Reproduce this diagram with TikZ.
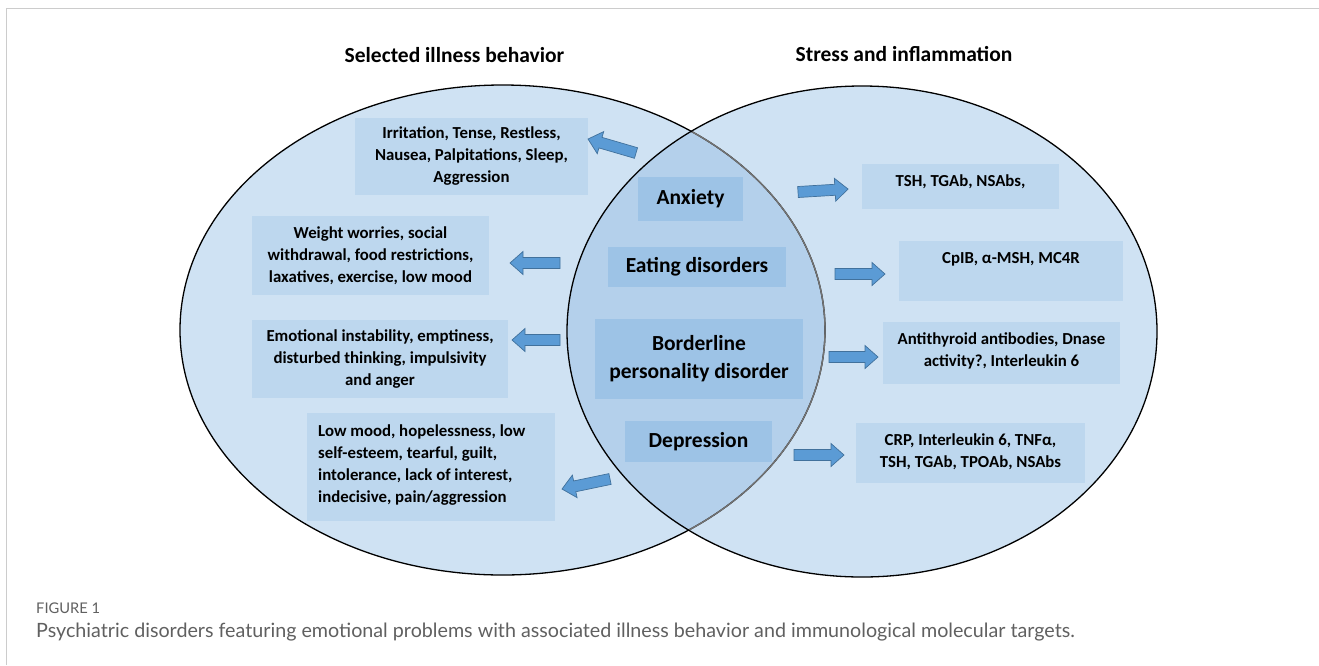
\documentclass[tikz,border=0pt]{standalone}
\usepackage{fontspec}
\setmainfont{Carlito}
\newfontfamily\capfont{Lato}
\usetikzlibrary{calc}

\definecolor{cVenn}{HTML}{CFE2F3}
\definecolor{cOverlap}{HTML}{B4D0EB}
\definecolor{cSide}{HTML}{BDD7EE}
\definecolor{cCore}{HTML}{9DC3E6}
\definecolor{cArrowFill}{HTML}{5B9BD5}
\definecolor{cArrowLine}{HTML}{41719C}
\definecolor{cFrame}{HTML}{CCCCCC}
\definecolor{cCaption}{HTML}{606060}

\begin{document}
\begin{tikzpicture}[x=1pt,y=-1pt,
  panel/.style={fill=cSide, inner sep=0pt, draw=none},
  corepanel/.style={fill=cCore, inner sep=0pt, draw=none},
  sidetext/.style={inner sep=0pt, align=center, font=\bfseries\fontsize{16.8}{22}\selectfont},
  coretext/.style={inner sep=0pt, align=center, font=\bfseries\fontsize{21.5}{28}\selectfont},
  heading/.style={inner sep=0pt, font=\bfseries\fontsize{21.5}{24}\selectfont},
  leftset/.style={x radius=322.5pt, y radius=245pt},
  rightset/.style={x radius=295pt, y radius=245.5pt},
  blockarrow/.style={draw=cArrowLine, fill=cArrowFill, line width=0.7pt, line join=miter,
    to path={let \p1=(\tikztostart), \p2=(\tikztotarget), \p3=($(\p2)!13pt!(\p1)$) in
      ($(\p1)!5.5pt!90:(\p2)$) -- ($(\p3)!5.5pt!90:(\p2)$) -- ($(\p3)!11.5pt!90:(\p2)$)
      -- (\p2) -- ($(\p3)!11.5pt!-90:(\p2)$) -- ($(\p3)!5.5pt!-90:(\p2)$)
      -- ($(\p1)!5.5pt!-90:(\p2)$) -- cycle}}
]
\useasboundingbox (0,0) rectangle (1319,665);
\fill[white] (0,0) rectangle (1319,665);

% frame lines
\draw[cFrame, line width=1pt] (6.5,665) -- (6.5,8.5) -- (1319,8.5);

% the two sets and their overlap
\fill[cVenn] (502.5,330) ellipse [leftset];
\fill[cVenn] (862,331.5) ellipse [rightset];
\begin{scope}
  \clip (502.5,330) ellipse [leftset];
  \fill[cOverlap] (862,331.5) ellipse [rightset];
\end{scope}
\draw[black, line width=1.3pt] (502.5,330) ellipse [leftset];
\begin{scope}
  \clip (862,331.5) ellipse [rightset];
  \draw[black!55, line width=1.4pt] (502.5,330) ellipse [leftset];
\end{scope}
\draw[black, line width=1.3pt] (862,331.5) ellipse [rightset];

% headings
\node[heading] (hl) at (454.5,55) {Selected illness behavior};
\node[heading] (hr) at (904,54) {Stress and inflammation};

% illness behaviour panels
\node[panel, minimum width=233pt, minimum height=77pt] (b1) at (471.5,156.5) {};
\node[sidetext] (t1) at (b1) {Irritation, Tense, Restless,\\Nausea, Palpitations, Sleep,\\Aggression};
\node[panel, minimum width=237pt, minimum height=79pt] (b2) at (370.5,255.5) {};
\node[sidetext] (t2) at (b2) {Weight worries, social\\withdrawal, food restrictions,\\laxatives, exercise, low mood};
\node[panel, minimum width=256pt, minimum height=78pt] (b3) at (380,359) {};
\node[sidetext] (t3) at (b3) {Emotional instability, emptiness,\\disturbed thinking, impulsivity\\and anger};
\node[panel, minimum width=248pt, minimum height=108pt] (b4) at (431,467) {};
\node[sidetext, align=left, anchor=west] (t4) at (318,465) {Low mood, hopelessness, low\\self-esteem, tearful, guilt,\\intolerance, lack of interest,\\indecisive, pain/aggression};

% disorders in the overlap
\node[corepanel, minimum width=105pt, minimum height=44pt] (c1) at (690.5,199) {};
\node[coretext] (d1) at (c1) {Anxiety};
\node[corepanel, minimum width=178pt, minimum height=40pt] (c2) at (697,267) {};
\node[coretext] (d2) at (c2) {Eating disorders};
\node[corepanel, minimum width=208pt, minimum height=80pt] (c3) at (699,359) {};
\node[coretext] (d3) at (c3) {Borderline\\personality disorder};
\node[corepanel, minimum width=147pt, minimum height=41pt] (c4) at (698.5,441.5) {};
\node[coretext] (d4) at (c4) {Depression};

% molecular targets
\node[panel, minimum width=197pt, minimum height=45pt] (r1) at (960.5,186.5) {};
\node[sidetext] (m1) at (960.5,182) {TSH, TGAb, NSAbs,};
\node[panel, minimum width=224pt, minimum height=60pt] (r2) at (1011,271) {};
\node[sidetext] (m2) at (1011,259) {CpIB, α-MSH, MC4R};
\node[panel, minimum width=237pt, minimum height=62pt] (r3) at (1001.5,353) {};
\node[sidetext] (m3) at (1001.5,351) {Antithyroid antibodies, Dnase\\activity?, Interleukin 6};
\node[panel, minimum width=229pt, minimum height=60pt] (r4) at (970.5,453) {};
\node[sidetext] (m4) at (970.5,452) {CRP, Interleukin 6, TNFα,\\TSH, TGAb, TPOAb, NSAbs};

% arrow end points
\coordinate (a1s) at (636,153); \coordinate (a1e) at (588,139);
\coordinate (a2s) at (560,263); \coordinate (a2e) at (510,263);
\coordinate (a3s) at (560,340); \coordinate (a3e) at (512,340);
\coordinate (a4s) at (610,479); \coordinate (a4e) at (562,489);
\coordinate (a5s) at (798,192); \coordinate (a5e) at (848,189);
\coordinate (a6s) at (835,274); \coordinate (a6e) at (885,274);
\coordinate (a7s) at (829,357); \coordinate (a7e) at (878,357);
\coordinate (a8s) at (794,455); \coordinate (a8e) at (844,455);

\draw[blockarrow] (a1s) to (a1e);
\draw[blockarrow] (a2s) to (a2e);
\draw[blockarrow] (a3s) to (a3e);
\draw[blockarrow] (a4s) to (a4e);
\draw[blockarrow] (a5s) to (a5e);
\draw[blockarrow] (a6s) to (a6e);
\draw[blockarrow] (a7s) to (a7e);
\draw[blockarrow] (a8s) to (a8e);

% caption
\node[anchor=base west, inner sep=0pt, text=cCaption, font=\capfont\fontsize{14.7}{16}\selectfont] (fig) at (36,613) {FIGURE 1};
\node[anchor=base west, inner sep=0pt, text=cCaption, font=\capfont\fontsize{19.7}{22}\selectfont] (cap) at (36,637) {Psychiatric disorders featuring emotional problems with associated illness behavior and immunological molecular targets.};
\end{tikzpicture}
\end{document}
